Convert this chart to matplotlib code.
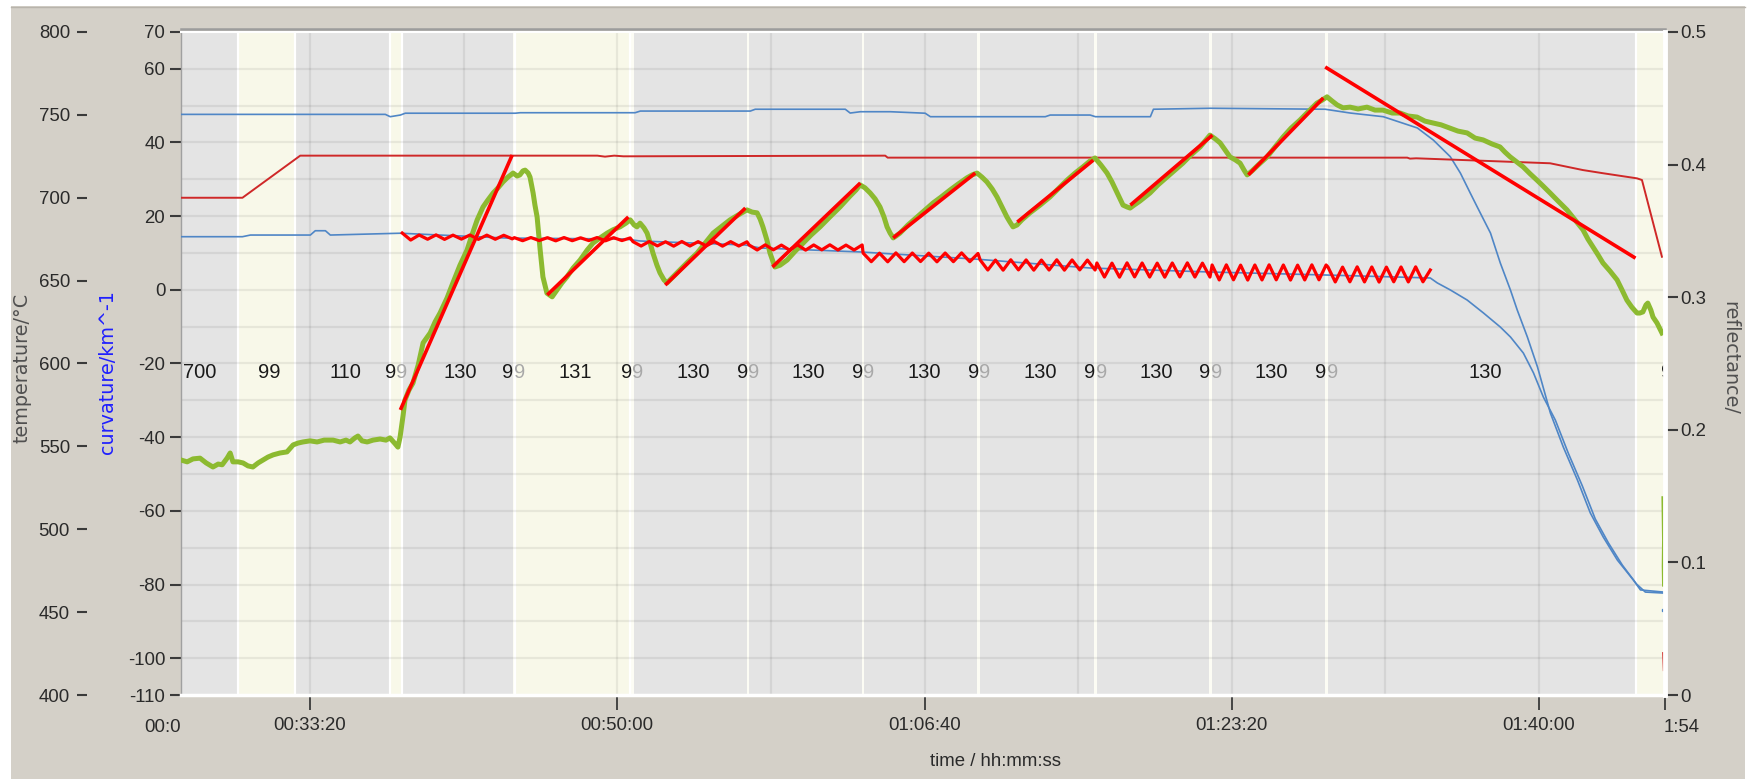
import numpy as np
import matplotlib
matplotlib.use("Agg")
import matplotlib.pyplot as plt
from matplotlib.patches import Rectangle
from matplotlib.lines import Line2D

plt.rcParams['font.family'] = ['Liberation Sans', 'DejaVu Sans']

# ---------------- data ----------------
t_start, t_end = 1580, 6410          # visible time window (s)
time_ticks = [2000, 3000, 4000, 5000, 6000]
time_tick_labels = ["00:33:20", "00:50:00", "01:06:40", "01:23:20", "01:40:00"]

curv_ticks = [70, 60, 40, 20, 0, -20, -40, -60, -80, -100, -110]
temp_ticks = [800, 750, 700, 650, 600, 550, 500, 450, 400]
refl_ticks = [0.5, 0.4, 0.3, 0.2, 0.1, 0.0]
refl_tick_labels = ["0.5", "0.4", "0.3", "0.2", "0.1", "0"]

# recipe steps
step_labels = ["700", "99", "110", "99", "130", "99", "131", "99", "130", "99", "130",
               "99", "130", "99", "130", "99", "130", "99", "130", "99", "130", "99"]
step_bounds = [1498, 1766, 1951, 2259, 2300, 2659, 2667, 3042, 3053, 3422, 3430, 3795,
               3803, 4172, 4181, 4552, 4561, 4926, 4936, 5304, 5313, 6316, 6530]
step_kinds = ["grey", "yellow", "grey", "yellow", "grey", "pale", "yellow", "pale", "grey",
              "pale", "grey", "pale", "grey", "pale", "grey", "pale", "grey", "pale", "grey",
              "pale", "grey", "yellow"]

# wafer curvature (km^-1)
curv_t = [1580, 1600, 1619, 1642, 1662, 1684, 1701, 1714, 1730, 1740, 1749, 1766, 1782, 1798,
          1814, 1831, 1847, 1863, 1880, 1902, 1925, 1945, 1961, 1977, 2000, 2023, 2046, 2075,
          2098, 2117, 2130, 2146, 2156, 2169, 2186, 2205, 2228, 2247, 2260, 2277, 2286,
          2293, 2303, 2309, 2322, 2335, 2352, 2368, 2391, 2407, 2423, 2446, 2465, 2488, 2511,
          2527, 2544, 2563, 2579, 2596, 2612, 2628, 2644, 2661, 2674, 2683, 2693, 2700, 2710,
          2716, 2726, 2732, 2739, 2749, 2758, 2771, 2788, 2804, 2820, 2836, 2856, 2879, 2902,
          2921, 2944, 2967, 2986, 3009, 3028, 3042, 3055, 3064, 3074, 3087, 3097, 3107, 3116,
          3129, 3139, 3152, 3162, 3181, 3204, 3230, 3260, 3286, 3312, 3338, 3367, 3393, 3422,
          3439, 3455, 3465, 3474, 3487, 3497, 3507, 3513, 3530, 3553, 3579, 3605, 3631, 3660,
          3692, 3725, 3758, 3777, 3790, 3806, 3823, 3839, 3855, 3868, 3878, 3888, 3898, 3907,
          3920, 3946, 3976, 4002, 4028, 4054, 4083, 4109, 4138, 4155, 4171, 4187, 4203, 4220,
          4236, 4252, 4268, 4278, 4288, 4301, 4317, 4343, 4376, 4408, 4435, 4464, 4490, 4516,
          4539, 4555, 4574, 4594, 4610, 4627, 4636, 4646, 4659, 4669, 4682, 4701, 4734, 4760,
          4789, 4815, 4841, 4867, 4897, 4913, 4929, 4946, 4962, 4978, 4994, 5011, 5027, 5040,
          5050, 5066, 5086, 5115, 5141, 5167, 5193, 5222, 5248, 5277, 5294, 5310, 5326, 5343,
          5362, 5385, 5411, 5440, 5466, 5492, 5522, 5548, 5574, 5603, 5629, 5655, 5681, 5710,
          5736, 5766, 5792, 5818, 5847, 5873, 5889, 5906, 5928, 5948, 5971, 5993, 6013, 6036,
          6062, 6091, 6117, 6143, 6159, 6176, 6192, 6208, 6231, 6254, 6270, 6286, 6302, 6319,
          6328, 6338, 6348, 6354, 6364, 6371, 6384, 6400]
curv_v = [-46.2, -46.7, -45.9, -45.7, -47.0, -48.1, -47.3, -47.5, -45.7, -44.3, -46.7, -46.7,
          -47.0, -47.8, -48.1, -47.0, -46.2, -45.4, -44.8, -44.3, -44.0, -42.1, -41.6, -41.3,
          -41.0, -41.3, -40.8, -40.8, -41.3, -40.8, -41.3, -40.2, -39.7, -41.0, -41.3, -40.8,
          -40.5, -40.8, -40.2, -41.8, -42.7,
          -40.0, -34.0, -29.9, -27.2, -25.3, -20.4, -14.4, -11.7, -8.7, -6.3, -2.2, 1.9, 6.7,
          10.8, 14.9, 19.0, 22.5, 24.4, 26.3, 27.7, 29.3, 30.6, 31.7, 30.9, 31.2, 32.3, 32.5,
          31.7, 30.6, 26.3, 23.0, 19.8, 10.8, 3.5, -0.9, -1.9, 0.0, 1.9, 3.5, 5.9, 8.1, 10.8,
          12.7, 14.1, 15.4, 16.3, 17.1, 18.1, 19.0, 17.6, 17.1, 18.1, 16.8, 15.4, 12.7, 10.0,
          6.7, 4.6, 2.7, 1.9, 3.5, 5.4, 7.6, 10.0, 12.7, 15.4, 17.1, 19.0, 20.3, 21.7, 21.1,
          20.9, 19.2, 17.1, 13.5, 10.0, 7.6, 6.2, 6.7, 8.1, 10.5, 12.7, 14.9, 17.1, 19.8, 22.5,
          25.5, 27.1, 28.5, 27.7, 26.3, 24.7, 22.5, 19.8, 17.1, 15.4, 14.1, 14.6, 15.4, 17.6,
          19.8, 21.7, 23.6, 25.2, 27.1, 28.7, 30.4, 31.2, 31.7, 30.6, 29.3, 27.4, 25.2, 22.5,
          19.8, 18.4, 17.1, 17.6, 19.0, 20.9, 23.0, 25.2, 27.4, 29.8, 31.7, 33.4, 35.0, 35.8,
          33.9, 31.7, 29.3, 26.3, 24.7, 23.0, 22.5, 22.2, 23.0, 24.1, 26.3, 28.5, 30.6, 32.5,
          34.4, 36.6, 38.8, 40.4, 42.0, 41.0, 39.9, 38.0, 36.1, 35.3, 34.4, 32.5, 31.2, 32.3,
          33.9, 36.1, 38.8, 41.5, 43.9, 46.1, 48.3, 50.7, 51.5, 52.4, 51.3, 50.2, 49.4, 49.6,
          49.1, 49.6, 48.8, 48.8, 48.0, 48.0, 47.2, 46.9, 45.8, 45.3, 44.8, 43.9, 43.1, 42.6,
          41.2, 40.7, 39.6, 38.8, 37.4, 36.1, 34.7, 33.4, 31.5, 29.8, 28.2, 26.3, 24.1, 21.7,
          19.0, 16.3, 13.8, 11.6, 9.5, 7.3, 5.1, 2.7, 0.0, -2.8, -4.7, -6.3, -6.3, -6.0, -4.1,
          -3.6, -5.5, -7.4, -9.0, -11.7]
curv_tail_t = [6404, 6405, 6406, 6405, 6406]
curv_tail_v = [-56.5, -62.0, -68.0, -75.0, -80.1]

# linear curvature fits per growth step
fit_start_t = [2294, 2772, 3156, 3505, 3898, 4302, 4670, 5054, 5304]
fit_start_v = [-32.6, -1.4, 1.3, 6.2, 14.1, 18.4, 23.0, 31.2, 60.5]
fit_end_t = [2658, 3036, 3417, 3791, 4165, 4549, 4937, 5298, 6314]
fit_end_v = [36.6, 19.8, 22.2, 29.0, 31.7, 35.2, 42.0, 52.1, 8.6]

# temperatures (degC)
temp1_t = [1581, 2245, 2261, 2294, 2310, 2668, 2684, 3058, 3075, 3433, 3449, 3742, 3758, 3791,
           3889, 4002, 4019, 4393, 4409, 4539, 4556, 4735, 4745, 4930, 5304, 5386, 5493, 5604,
           5656, 5711, 5744, 5776, 5799, 5842, 5874, 5907, 5929, 5962, 5995, 6037, 6079, 6125,
           6167, 6209, 6255, 6307, 6330, 6405]
temp1_v = [750.3, 750.3, 748.9, 749.9, 751.0, 751.0, 751.3, 751.3, 752.3, 752.3, 753.4, 753.4,
           751.1, 751.9, 751.9, 751.0, 748.9, 748.9, 749.9, 749.9, 748.9, 748.9, 753.4, 754.0,
           753.4, 751.1, 748.9, 742.1, 734.8, 724.8, 714.9, 702.9, 694.4, 678.7, 660.6, 644.3,
           632.3, 616.0, 597.9, 570.1, 549.6, 529.7, 509.8, 495.3, 481.4, 469.4, 463.4, 462.1]
temp2_t = [1581, 1780, 1806, 2001, 2017, 2050, 2066, 2294, 2636, 3026, 3075, 3417, 3465, 3791,
           4165, 4540, 4930, 5304, 5646, 5669, 5711, 5766, 5819, 5874, 5907, 5949, 5982, 6014,
           6053, 6095, 6141, 6183, 6226, 6271, 6317, 6346, 6405]
temp2_v = [676.5, 676.5, 677.5, 677.5, 680.1, 680.1, 677.5, 678.6, 675.7, 675.1, 673.9, 671.5,
           669.7, 667.3, 663.0, 657.6, 655.2, 653.4, 651.6, 648.6, 644.4, 638.3, 630.5, 622.0,
           616.0, 606.3, 594.3, 579.8, 565.9, 546.0, 526.1, 506.2, 491.7, 478.4, 467.0, 462.1,
           461.5]
setpoint_t = [1580, 1780, 1968, 2935, 2960, 2990, 3020, 3872, 3880, 5571, 5580, 5600, 6036,
              6143, 6208, 6319, 6335, 6400]
setpoint_v = [700.0, 700.0, 725.4, 725.4, 724.8, 725.4, 725.0, 725.4, 724.2, 724.2, 723.6,
              723.8, 720.8, 716.7, 714.8, 711.7, 710.7, 664.4]
setpoint_tail_t = [6404, 6406]
setpoint_tail_v = [425.3, 415.0]
temp_dot_t = [6405]
temp_dot_v = [451.3]

# reflectance oscillations, one list per growth step
refl_step_t = [(2300, 2658), (2665, 3042), (3051, 3422), (3429, 3797), (3800, 4174),
               (4181, 4555), (4561, 4929), (4936, 5307), (5313, 5646)]
refl_s1 = [0.3484, 0.3431, 0.3469, 0.3437, 0.3470, 0.3436, 0.3468, 0.3438, 0.3469, 0.3436,
           0.3468, 0.3437, 0.3467, 0.3440]
refl_s2 = [0.3449, 0.3426, 0.3450, 0.3427, 0.3449, 0.3425, 0.3450, 0.3426, 0.3448, 0.3427,
           0.3450, 0.3425, 0.3449, 0.3427, 0.3447]
refl_s3 = [0.3419, 0.3386, 0.3420, 0.3387, 0.3418, 0.3385, 0.3420, 0.3386, 0.3419, 0.3387,
           0.3420, 0.3385, 0.3419, 0.3386, 0.3418]
refl_s4 = [0.3394, 0.3356, 0.3395, 0.3357, 0.3393, 0.3356, 0.3395, 0.3355, 0.3394, 0.3357,
           0.3395, 0.3356, 0.3393, 0.3356, 0.3394]
refl_s5 = [0.3333, 0.3268, 0.3332, 0.3267, 0.3334, 0.3268, 0.3333, 0.3269, 0.3332, 0.3267,
           0.3333, 0.3268, 0.3334, 0.3268, 0.3330]
refl_s6 = [0.3281, 0.3205, 0.3280, 0.3204, 0.3282, 0.3206, 0.3281, 0.3204, 0.3280, 0.3205,
           0.3282, 0.3204, 0.3281, 0.3206, 0.3280, 0.3205]
refl_s7 = [0.3258, 0.3152, 0.3257, 0.3151, 0.3259, 0.3153, 0.3258, 0.3152, 0.3257, 0.3151,
           0.3258, 0.3153, 0.3259, 0.3152, 0.3257, 0.3152]
refl_s8 = [0.3243, 0.3130, 0.3244, 0.3131, 0.3242, 0.3129, 0.3243, 0.3130, 0.3244, 0.3131,
           0.3243, 0.3129, 0.3242, 0.3130, 0.3244, 0.3131, 0.3243]
refl_s9 = [0.3228, 0.3115, 0.3227, 0.3116, 0.3229, 0.3115, 0.3228, 0.3114, 0.3227, 0.3116,
           0.3228, 0.3115, 0.3229, 0.3116, 0.3205]

# ---------------- styling ----------------
W, H = 1752, 779
PANEL = '#d4d0c8'
PLOT_BG = '#e4e4e4'
BAND = {'grey': PLOT_BG, 'yellow': '#f8f8e9', 'pale': '#fcfcf4'}
GREEN = '#8cba30'
BLUE = '#4f86c6'
RED = '#ff0000'
DARKRED = '#cf2828'
TXT = '#2a2a2a'
TICK_FONT = ['Liberation Sans', 'DejaVu Sans']
STEP_SIZE = 14.5


def px_box(left, top, right, bottom):
    return [left / W, 1 - bottom / H, (right - left) / W, (bottom - top) / H]


fig = plt.figure(figsize=(W / 100, H / 100), dpi=100)
fig.patch.set_facecolor('white')
fig.add_artist(Rectangle((11 / W, 0), (1745 - 11) / W, 1 - 6 / H, transform=fig.transFigure,
                         facecolor=PANEL, edgecolor='none', zorder=-10))
fig.add_artist(Line2D([11 / W, 1745 / W], [1 - 6.5 / H] * 2, transform=fig.transFigure,
                      color='#b8b4ac', lw=1.0, zorder=-9))
fig.add_artist(Line2D([181 / W, 1665 / W], [1 - 29 / H] * 2, transform=fig.transFigure,
                      color='#9c9c9c', lw=1.8, zorder=-9))

# base axes: background, bands, grid and curvature scale
ax = fig.add_axes(px_box(181, 32, 1665, 695))
ax.set_zorder(0)
ax.set_facecolor(PLOT_BG)
ax.set_xlim(t_start, t_end)
ax.set_ylim(-110, 70)

for k, kind in enumerate(step_kinds):
    a, b = step_bounds[k], step_bounds[k + 1]
    if kind != 'grey':
        ax.axvspan(a, b, color=BAND[kind], lw=0, zorder=0.2)
    if kind == 'yellow':
        for edge in (a, b):
            ax.axvline(edge, color='white', lw=1.6, zorder=0.3)

for yv in range(-100, 70, 10):
    ax.axhline(yv, color='black', alpha=0.065, lw=1.6, zorder=0.5)
for xv in range(2000, 6001, 500):
    ax.axvline(xv, color='black', alpha=0.065, lw=1.6, zorder=0.5)

# step labels
lab_tr = ax.get_xaxis_transform()
for k, lab in enumerate(step_labels):
    a, b = step_bounds[k], step_bounds[k + 1]
    c = 0.5 * (a + b)
    if lab == "99" and (b - a) < 60:
        ax.text(c, 0.4857, "9", transform=lab_tr, ha='right', va='center', fontsize=STEP_SIZE,
                family=TICK_FONT, color='#1a1a1a', clip_on=True, zorder=5)
        ax.text(c, 0.4857, "9", transform=lab_tr, ha='left', va='center', fontsize=STEP_SIZE,
                family=TICK_FONT, color='#a8a8a8', clip_on=True, zorder=5)
    else:
        ax.text(c + 10, 0.4857, lab, transform=lab_tr, ha='center', va='center',
                fontsize=STEP_SIZE, family=TICK_FONT, color='#1a1a1a', clip_on=True, zorder=5)

# curvature ticks (left, inner)
ax.set_yticks(curv_ticks)
ax.set_yticklabels([str(v) for v in curv_ticks])
ax.tick_params(axis='y', direction='out', length=7.8, width=1.5, color='#3a3a3a', pad=3.5,
               labelsize=13.4, labelcolor=TXT)
ax.set_xticks(time_ticks + [t_end])
ax.set_xticklabels(time_tick_labels + [''])
ax.tick_params(axis='x', direction='out', length=10.8, width=1.3, color='#3a3a3a', pad=5,
               labelsize=13.4, labelcolor=TXT)
for lbl in ax.get_xticklabels() + ax.get_yticklabels():
    lbl.set_family(TICK_FONT)
ax.spines['left'].set_color('#a0a0a0')
ax.spines['left'].set_linewidth(1.0)
ax.spines['top'].set_color('white')
ax.spines['top'].set_linewidth(1.5)
for s in ('right', 'bottom'):
    ax.spines[s].set_visible(False)

# temperature axis (outer left)
axT = ax.twinx()
axT.set_zorder(1)
axT.set_ylim(400, 800)
axT.yaxis.tick_left()
axT.spines['left'].set_position(('axes', (87 - 181) / 1484))
for s in axT.spines.values():
    s.set_visible(False)
axT.set_yticks(temp_ticks)
axT.set_yticklabels([str(v) for v in temp_ticks])
axT.tick_params(axis='y', direction='out', length=7.2, width=1.5, color='#3a3a3a', pad=5,
                labelsize=13.4, labelcolor=TXT)
for lbl in axT.get_yticklabels():
    lbl.set_family(TICK_FONT)
axT.plot(temp1_t, temp1_v, color=BLUE, lw=1.2, zorder=2)
axT.plot(temp2_t, temp2_v, color=BLUE, lw=1.2, zorder=2)
axT.plot(temp_dot_t, temp_dot_v, 's', color=BLUE, ms=2, zorder=2)
axT.plot(setpoint_t, setpoint_v, color=DARKRED, lw=1.4, zorder=3)
axT.plot(setpoint_tail_t, setpoint_tail_v, color=DARKRED, lw=1.4, zorder=3)

# curvature traces
axG = ax.twinx()
axG.set_zorder(2)
axG.set_ylim(-110, 70)
axG.set_yticks([])
for s in axG.spines.values():
    s.set_visible(False)
axG.plot(curv_t, curv_v, color=GREEN, lw=3.6, solid_joinstyle='round', zorder=2)
axG.plot(curv_tail_t, curv_tail_v, color=GREEN, lw=2.5, zorder=2)
for t0, v0, t1, v1 in zip(fit_start_t, fit_start_v, fit_end_t, fit_end_v):
    axG.plot([t0, t1], [v0, v1], color=RED, lw=2.6, solid_capstyle='butt', zorder=4)

# reflectance axis (right)
axR = ax.twinx()
axR.set_zorder(3)
axR.set_ylim(0, 0.5)
axR.set_xlim(t_start, t_end)
axR.set_yticks(refl_ticks)
axR.set_yticklabels(refl_tick_labels)
axR.tick_params(axis='y', direction='out', length=9.4, width=1.5, color='#3a3a3a', pad=1.5,
                labelsize=13.4, labelcolor=TXT)
for lbl in axR.get_yticklabels():
    lbl.set_family(TICK_FONT)
for s in ('left', 'top'):
    axR.spines[s].set_visible(False)
axR.spines['right'].set_color('white')
axR.spines['right'].set_linewidth(3.5)
axR.spines['bottom'].set_color('white')
axR.spines['bottom'].set_linewidth(2.5)

refl_segments = [refl_s1, refl_s2, refl_s3, refl_s4, refl_s5, refl_s6, refl_s7, refl_s8, refl_s9]
refl_t = np.concatenate([np.linspace(a, b, len(v)) for (a, b), v in zip(refl_step_t, refl_segments)])
refl_v = np.concatenate(refl_segments)
axR.plot(refl_t, refl_v, color=RED, lw=2.3, solid_joinstyle='round', zorder=3)

# axis titles
fig.text(22 / W, 1 - 368 / H, "temperature/°C", rotation=90, ha='center', va='center',
         fontsize=13.8, family='DejaVu Sans', color='#505050')
fig.text(108 / W, 1 - 372 / H, "curvature/km^-1", rotation=90, ha='center', va='center',
         fontsize=13.8, family='DejaVu Sans', color='#1f1fff')
fig.text(1730 / W, 1 - 358 / H, "reflectance/", rotation=270, ha='center', va='center',
         fontsize=13.8, family='DejaVu Sans', color='#505050')
fig.text(995 / W, 1 - 762 / H, "time / hh:mm:ss", ha='center', va='center',
         fontsize=13.4, family=TICK_FONT, color=TXT)
fig.text(181 / W, 1 - 728 / H, "00:0", ha='right', va='center', fontsize=13.4,
         family=TICK_FONT, color=TXT)
fig.text(1664 / W, 1 - 728 / H, "1:54", ha='left', va='center', fontsize=13.4,
         family=TICK_FONT, color=TXT)

fig.savefig("out.png", dpi=100, facecolor=fig.get_facecolor())
